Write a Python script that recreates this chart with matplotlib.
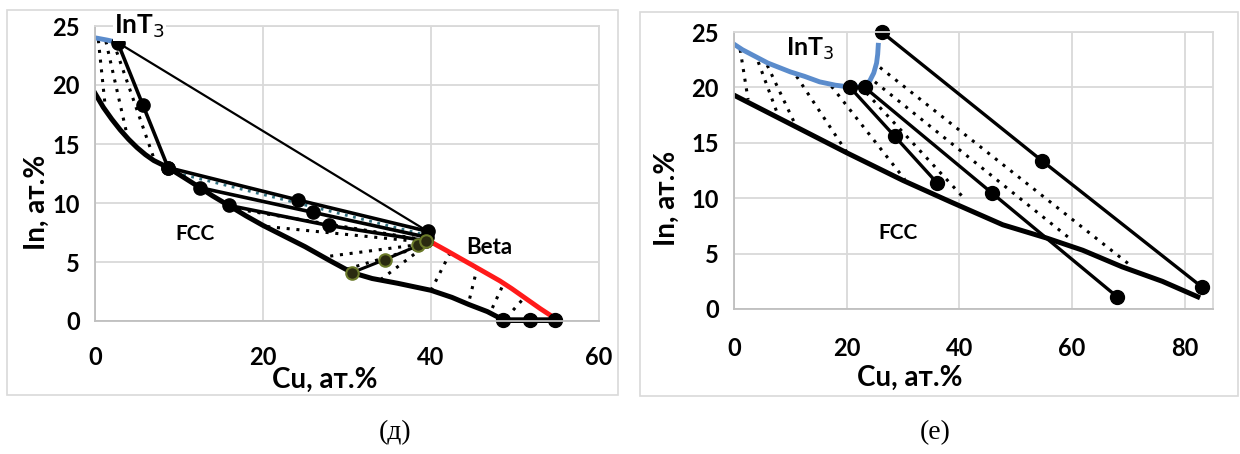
import matplotlib.pyplot as plt
from matplotlib.patches import Rectangle

# ---------- panel (д) data ----------
d_fcc_x = [0, 1, 2, 3, 4, 5, 6, 7, 8.7, 10.5, 12.5, 14, 15.9, 18, 20, 22.5, 25, 28,
           30.6, 33, 36, 40, 42.5, 44.5, 46.7, 48.6, 55]
d_fcc_y = [19.3, 18.1, 17.1, 16.2, 15.4, 14.7, 14.1, 13.6, 13.0, 12.2, 11.3, 10.6, 9.8,
           8.9, 8.1, 7.2, 6.3, 5.1, 4.1, 3.6, 3.2, 2.6, 2.0, 1.4, 0.8, 0.1, 0.1]
d_beta_x = [39.3, 40.5, 41.9, 43.5, 45.0, 46.6, 48.2, 49.6, 51.0, 52.0, 53.0, 54.5]
d_beta_y = [7.0, 6.5, 5.95, 5.3, 4.7, 4.05, 3.4, 2.75, 2.05, 1.55, 1.05, 0.35]
d_int3_x = [0, 1.5, 3.3]
d_int3_y = [24.0, 23.8, 23.5]
d_base_pts_x = [48.6, 51.8, 54.8]
d_base_pts_y = [0.1, 0.1, 0.1]
# solid tie triangles: (x list, y list)
d_ties = [
    ([2.7, 5.7, 8.7], [23.6, 18.3, 13.0]),
    ([8.7, 24.2, 39.6], [13.0, 10.25, 7.6]),
    ([12.5, 26.0, 39.5], [11.3, 9.2, 7.1]),
    ([15.9, 27.8, 39.4], [9.8, 8.1, 6.8]),
]
d_thin_x = [2.7, 39.6]
d_thin_y = [23.6, 7.6]
d_green_x = [30.6, 34.5, 38.5, 39.4]
d_green_y = [4.1, 5.2, 6.4, 6.8]
d_teal_x = [10.5, 39.3]
d_teal_y = [12.4, 7.3]
d_dots = [
    ([0.4, 1.2], [23.8, 18.3]),
    ([1.3, 3.9], [23.7, 15.5]),
    ([2.2, 7.0], [23.6, 13.8]),
    ([15.9, 39.0], [9.6, 6.9]),
    ([20.5, 39.0], [8.0, 6.7]),
    ([28.0, 38.8], [5.5, 6.5]),
    ([30.0, 38.9], [4.4, 6.3]),
    ([34.0, 39.0], [3.5, 6.2]),
    ([40.0, 42.3], [2.6, 5.8]),
    ([44.6, 45.5], [1.9, 4.5]),
    ([47.3, 48.6], [1.1, 3.1]),
    ([49.0, 51.0], [0.3, 1.9]),
]

# ---------- panel (е) data ----------
e_fcc_x = [0, 10, 20, 30, 38.3, 47.7, 55.5, 61.9, 68.9, 76, 82.3]
e_fcc_y = [19.3, 16.7, 14.1, 11.6, 9.7, 7.6, 6.4, 5.3, 3.8, 2.5, 1.1]
e_int3_x = [0, 1.5, 3, 4.5, 6, 8, 10, 12.5, 15.2, 18, 21.1, 23, 24.1, 24.8, 25.3, 25.5, 25.6]
e_int3_y = [23.9, 23.4, 23.0, 22.6, 22.2, 21.8, 21.4, 21.0, 20.5, 20.2, 20.0, 20.1, 20.6,
            21.3, 22.2, 23.0, 23.8]
e_ties = [
    ([26.2, 54.6, 83.0], [25.0, 13.4, 2.0]),
    ([23.2, 45.7, 68.0], [20.0, 10.5, 1.1]),
    ([20.6, 28.5, 36.0], [20.0, 15.6, 11.4]),
]
e_dots = [
    ([1.1, 2.5], [23.4, 18.9]),
    ([4.3, 7.8], [22.3, 17.5]),
    ([5.9, 11.1], [22.0, 16.4]),
    ([11.1, 20.2], [21.0, 14.0]),
    ([17.3, 30.3], [20.1, 11.7]),
    ([23.5, 41.0], [19.5, 9.9]),
    ([25.0, 60.0], [20.5, 6.2]),
    ([25.9, 70.7], [21.8, 3.8]),
]

fam = ['Lato', 'Open Sans', 'DejaVu Sans']
plt.rcParams['font.family'] = fam

fig = plt.figure(figsize=(12.4, 4.54), dpi=100)
W, H = 1240., 454.

# light gray panel frames
fig.patches.append(Rectangle((7/W, 1-395/H), 611/W, 385/H, transform=fig.transFigure,
                             fill=False, ec='#d9d9d9', lw=1.2))
fig.patches.append(Rectangle((640/W, 1-396/H), 598/W, 384/H, transform=fig.transFigure,
                             fill=False, ec='#d9d9d9', lw=1.2))

ax1 = fig.add_axes([95/W, 1-321/H, 504/W, 295/H])
ax2 = fig.add_axes([734/W, 1-309/H, 479/W, 277/H])


def style(ax, xmax, xticks, xpad):
    ax.set_xlim(0, xmax)
    ax.set_ylim(0, 25)
    ax.set_xticks(xticks)
    ax.set_yticks([0, 5, 10, 15, 20, 25])
    ax.grid(True, color='#d9d9d9', lw=1.3)
    ax.set_axisbelow(True)
    for s in ax.spines.values():
        s.set_color('#d9d9d9')
        s.set_linewidth(1.3)
    ax.spines['bottom'].set_color('#bfbfbf')
    ax.spines['left'].set_color('#bfbfbf')
    ax.tick_params(length=0, labelsize=17)
    ax.tick_params(axis='x', pad=xpad)
    ax.tick_params(axis='y', pad=11)
    for lab in ax.get_xticklabels() + ax.get_yticklabels():
        lab.set_fontweight('bold')


style(ax1, 60, [0, 20, 40, 60], 18)
style(ax2, 85, [0, 20, 40, 60, 80], 20)

# ---- panel (д) ----
for xs, ys in d_dots:
    ax1.plot(xs, ys, color='black', ls=(0, (1, 2.2)), lw=2.2)
ax1.plot(d_teal_x, d_teal_y, color='#2f6f7f', ls=(0, (1, 2)), lw=2.0)
ax1.plot(d_int3_x, d_int3_y, color='#5b8ccc', lw=3.5)
ax1.plot(d_beta_x, d_beta_y, color='#ff1a1a', lw=3.5, solid_capstyle='round',
         solid_joinstyle='round')
ax1.plot(d_fcc_x, d_fcc_y, color='black', lw=3.6, solid_joinstyle='round')
ax1.plot(d_thin_x, d_thin_y, color='black', lw=1.6)
for xs, ys in d_ties:
    ax1.plot(xs, ys, color='black', lw=2.6, marker='o', ms=9.5)
ax1.plot(d_green_x, d_green_y, color='black', lw=2.2, marker='o', ms=9,
         mfc='#2a2a10', mec='#6b7a2a', mew=1.5)
ax1.plot(d_base_pts_x, d_base_pts_y, color='black', lw=3.6, marker='o', ms=10,
         clip_on=False)
ax1.text(5.3, 25, 'InT$_3$', fontsize=19, fontweight='bold', ha='center', va='center',
         bbox=dict(fc='white', ec='none', pad=1))
ax1.text(11.9, 7.4, 'FCC', fontsize=15, fontweight='bold', ha='center', va='center')
ax1.text(46.9, 6.2, 'Beta', fontsize=16, fontweight='bold', ha='center', va='center')

# ---- panel (е) ----
for xs, ys in e_dots:
    ax2.plot(xs, ys, color='black', ls=(0, (1, 2.2)), lw=2.2)
ax2.plot(e_int3_x, e_int3_y, color='#5b8ccc', lw=3.5, solid_joinstyle='round')
ax2.plot(e_fcc_x, e_fcc_y, color='black', lw=3.6, solid_joinstyle='round')
for xs, ys in e_ties:
    ax2.plot(xs, ys, color='black', lw=2.4, marker='o', ms=10, clip_on=False)
ax2.text(13.5, 23.5, 'InT$_3$', fontsize=18, fontweight='bold', ha='center', va='center')
ax2.text(29.1, 6.9, 'FCC', fontsize=15, fontweight='bold', ha='center', va='center')

# axis labels
fig.text(325/W, 1-380/H, 'Cu, ат.%', fontsize=20, fontweight='bold', ha='center', va='center')
fig.text(910/W, 1-378/H, 'Cu, ат.%', fontsize=20, fontweight='bold', ha='center', va='center')
fig.text(37/W, 1-202/H, 'In, ат.%', fontsize=20, fontweight='bold', ha='center', va='center',
         rotation=90)
fig.text(667/W, 1-198/H, 'In, ат.%', fontsize=20, fontweight='bold', ha='center', va='center',
         rotation=90)

# captions
fig.text(395/W, 1-433/H, '(д)', fontsize=20, family=['Liberation Serif', 'DejaVu Serif'],
         ha='center', va='center')
fig.text(935/W, 1-433/H, '(е)', fontsize=20, family=['Liberation Serif', 'DejaVu Serif'],
         ha='center', va='center')

fig.savefig('out.png', dpi=100)
